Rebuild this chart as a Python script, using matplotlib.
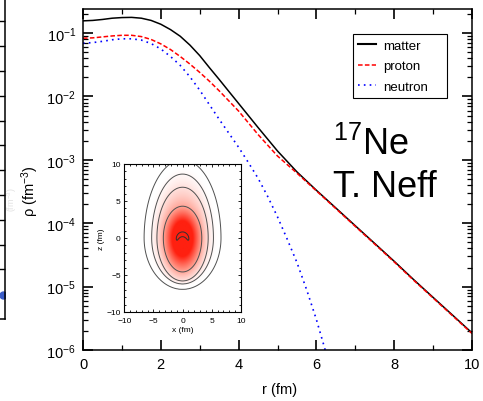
import numpy as np
import matplotlib
matplotlib.use('Agg')
import matplotlib.pyplot as plt
from matplotlib.colors import LinearSegmentedColormap
from matplotlib.ticker import MultipleLocator, LogLocator, NullFormatter

plt.rcParams['font.family'] = ['Liberation Sans', 'DejaVu Sans']
plt.rcParams['mathtext.fontset'] = 'custom'
plt.rcParams['mathtext.rm'] = 'Liberation Sans'
plt.rcParams['mathtext.it'] = 'Liberation Sans:italic'
plt.rcParams['mathtext.bf'] = 'Liberation Sans:bold'

# radial densities of 17Ne (fm^-3)
r = [0.0, 0.25, 0.5, 0.75, 1.0, 1.25, 1.5, 1.75, 2.0, 2.25, 2.5, 2.75,
     3.0, 3.25, 3.5, 3.75, 4.0, 4.5, 5.0, 5.5, 6.0, 6.5, 7.0, 7.5,
     8.0, 8.5, 9.0, 9.5, 10.0]
rho_matter = [0.156, 0.1585, 0.1641, 0.1718, 0.1758, 0.177, 0.1718, 0.1585,
              0.138, 0.1135, 0.0891, 0.0646, 0.0442, 0.0285, 0.0186, 0.012,
              7.76e-3, 3.24e-3, 1.38e-3, 6.46e-4, 3.31e-4, 1.74e-4, 9.12e-5,
              4.79e-5, 2.51e-5, 1.29e-5, 6.76e-6, 3.55e-6, 1.86e-6]
rho_proton = [0.0832, 0.0841, 0.0871, 0.0902, 0.0923, 0.0923, 0.0881, 0.0794,
              0.0676, 0.055, 0.0427, 0.0324, 0.024, 0.0174, 0.0123, 8.51e-3,
              5.89e-3, 2.51e-3, 1.15e-3, 6.17e-4, 3.24e-4, 1.70e-4, 8.91e-5,
              4.68e-5, 2.45e-5, 1.26e-5, 6.61e-6, 3.47e-6, 1.82e-6]
r_neutron = [0.0, 0.25, 0.5, 0.75, 1.0, 1.25, 1.5, 1.75, 2.0, 2.25, 2.5, 2.75,
             3.0, 3.25, 3.5, 3.75, 4.0, 4.25, 4.5, 4.75, 5.0, 5.25, 5.5, 5.75,
             6.0, 6.25]
rho_neutron = [0.0692, 0.0708, 0.0741, 0.0785, 0.0813, 0.0813, 0.0776, 0.0684,
               0.0562, 0.0427, 0.0309, 0.0204, 0.0126, 7.41e-3, 4.37e-3,
               2.63e-3, 1.58e-3, 9.1e-4, 5.13e-4, 2.63e-4, 1.26e-4, 5.6e-5,
               2.40e-5, 8.9e-6, 3.02e-6, 8.9e-7]

# intrinsic density (inset): contour half-widths in fm and elongation above/below
contour_halfwidth = [3.3, 4.4, 5.3, 6.6]
elong_up = [1.30, 1.56, 1.63, 1.60]
elong_down = [1.39, 1.32, 1.17, 1.05]
core_radius = 3.0
# small crescent around the density maximum
cres_z0, cres_R, cres_w = -0.5, 1.0, 0.45

fig = plt.figure(figsize=(4.83, 4.02), dpi=100)
W, H = 483.0, 402.0

# piece of the neighbouring panel at the left edge
axl = fig.add_axes([-30 / W, 1 - 320 / H, 34.5 / W, 340 / H])
axl.set_xlim(0, 1)
axl.set_ylim(0, 340 / 24.8)
for s in ['left', 'top']:
    axl.spines[s].set_visible(False)
for s in ['right', 'bottom']:
    axl.spines[s].set_linewidth(1.1)
axl.set_xticks([])
axl.yaxis.tick_right()
axl.set_yticks(np.arange(1, 14))
axl.tick_params(axis='y', direction='in', length=5, width=1.0, labelright=False)
axl.plot([0.97], [0.97], 'o', color='#3a5cc8', ms=5, clip_on=True)
fig.text(12 / W, 1 - 200 / H, '(fm$^{-3}$)', rotation=90, color='#e2e2e2',
         fontsize=6.5, ha='center', va='center')

# main panel
ax = fig.add_axes([83 / W, 1 - 351 / H, 389 / W, 341 / H])
ax.plot(r, rho_matter, color='black', lw=1.1, label='matter')
ax.plot(r, rho_proton, color='red', lw=1.1, ls=(0, (3, 1.5)), label='proton')
ax.plot(r_neutron, rho_neutron, color='blue', lw=1.2, ls=(0, (1, 2.5)),
        label='neutron')
ax.set_yscale('log')
ax.set_xlim(0, 10)
ax.set_ylim(1e-6, 0.24)
ax.xaxis.set_major_locator(MultipleLocator(2))
ax.xaxis.set_minor_locator(MultipleLocator(1))
ax.yaxis.set_major_locator(LogLocator(base=10, numticks=10))
ax.yaxis.set_minor_locator(LogLocator(base=10, subs=np.arange(2, 10), numticks=20))
ax.yaxis.set_minor_formatter(NullFormatter())
ax.tick_params(which='both', direction='in', top=True, right=True,
               labelsize=10.5)
ax.tick_params(which='major', length=7, width=1.2, pad=5)
ax.tick_params(which='minor', length=3.5, width=0.9)
for s in ax.spines.values():
    s.set_linewidth(1.1)
ax.set_xlabel('r (fm)', fontsize=10.5)
ax.xaxis.set_label_coords(0.506, -0.095)
ax.set_ylabel('ρ (fm$^{-3}$)', fontsize=10.5)
ax.yaxis.set_label_coords(-0.108, 0.47)

leg = ax.legend(loc='upper left', bbox_to_anchor=(352.7 / W, 1 - 108.3 / H, 94 / W, 73.3 / H),
                bbox_transform=fig.transFigure, mode='expand', borderaxespad=0,
                fancybox=False, edgecolor='black', framealpha=1, fontsize=9.5,
                handlelength=1.3, handletextpad=0.55, labelspacing=0.62,
                borderpad=0.43)
leg.get_frame().set_linewidth(0.8)
leg.get_lines()[0].set_linewidth(1.5)

fig.text(333 / W, 1 - 155 / H, '$^{17}$Ne', fontsize=26, ha='left', va='baseline')
fig.text(333 / W, 1 - 197 / H, 'T. Neff', fontsize=26, ha='left', va='baseline')

# inset: intrinsic density in the x-z plane
axi = fig.add_axes([124.3 / W, 1 - 313 / H, 116.5 / W, 148 / H])
g = np.linspace(-10, 10, 321)
X, Z = np.meshgrid(g, g)
S = np.hypot(X, Z) / 1.3
for _ in range(40):
    a = np.where(Z > 0, np.interp(S, contour_halfwidth, elong_up),
                 np.interp(S, contour_halfwidth, elong_down))
    S = np.sqrt(X ** 2 + (Z / a) ** 2)
dens = np.exp(-(S / core_radius) ** 2)
reds = LinearSegmentedColormap.from_list('reds', ['white', '#ff9080', '#ff2010'])
axi.imshow(dens, extent=(-10, 10, -10, 10), origin='lower', cmap=reds,
           vmin=0.02, vmax=0.7, interpolation='bilinear', aspect='auto')
axi.contour(X, Z, S, levels=contour_halfwidth, colors='#505050', linewidths=0.7)
d = np.hypot(X, Z - cres_z0)
theta = np.arctan2(Z - cres_z0, X)
cres = np.exp(-((d - cres_R) / cres_w) ** 2) * 0.5 * (1 + np.sin(theta))
axi.contour(X, Z, cres, levels=[0.6], colors='#303030', linewidths=0.7)
axi.set_xlim(-10, 10)
axi.set_ylim(-10, 10)
axi.xaxis.set_major_locator(MultipleLocator(5))
axi.xaxis.set_minor_locator(MultipleLocator(1))
axi.yaxis.set_major_locator(MultipleLocator(5))
axi.yaxis.set_minor_locator(MultipleLocator(1))
axi.tick_params(which='both', direction='in', top=True, right=True,
                labelsize=6, width=0.6)
axi.tick_params(axis='x', which='both', pad=3.5)
axi.tick_params(axis='y', which='both', pad=2.5)
axi.tick_params(which='major', length=2.2)
axi.tick_params(which='minor', length=1.2)
for s in axi.spines.values():
    s.set_linewidth(0.8)
axi.set_xlabel('x (fm)', fontsize=6, labelpad=1.5)
axi.set_ylabel('z (fm)', fontsize=6, labelpad=1)

fig.savefig('out.png', dpi=100)
